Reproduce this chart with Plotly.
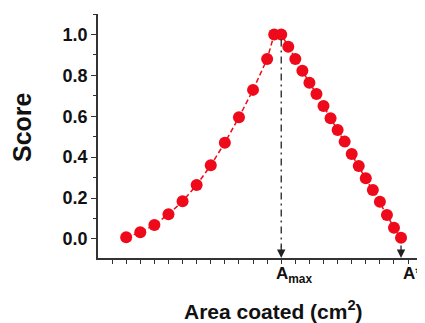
import plotly.graph_objects as go

# Data (x in tick units, Amax at 13, A* at 21.5)
area = [2, 3, 4, 5, 6, 7, 8, 9, 10, 11, 12, 12.5, 13,
        13.5, 14, 14.5, 15, 15.5, 16, 16.5, 17, 17.5, 18, 18.5, 19, 19.5, 20, 20.5, 21, 21.5]
score = [0.008, 0.033, 0.068, 0.121, 0.184, 0.264, 0.36, 0.471, 0.595, 0.729, 0.88, 1.0, 1.0,
         0.94, 0.88, 0.823, 0.764, 0.709, 0.65, 0.59, 0.533, 0.476, 0.416, 0.357, 0.297, 0.24,
         0.182, 0.117, 0.055, 0.006]
a_max = 13
a_star = 21.5
x_ticks = list(range(1, 24))
y_ticks = [0.0, 0.2, 0.4, 0.6, 0.8, 1.0]
x_tick_labels = ["A<sub>max</sub>", "A*"]

RED = "#EE0A1A"
FONT = "Liberation Sans, Arial, sans-serif"
y_lo, y_hi = -0.093, 1.10

# page body has an 8px default margin; figure sized to fill the rest
W, H = 417, 315
ML, MT, MB, MR = 90, 6, 65, 0
plot_w, plot_h = W - ML - MR, H - MT - MB

fig = go.Figure()
fig.add_trace(go.Scatter(
    x=area, y=score, mode="lines+markers",
    line=dict(color=RED, width=1.5, dash="5px,3px"),
    marker=dict(color=RED, size=12, line=dict(width=0)),
    showlegend=False,
))

# dash-dot drop line at Amax
fig.add_shape(type="line", x0=a_max, x1=a_max, y0=0.975, y1=-0.04,
              line=dict(color="#222222", width=1.3, dash="7px,4px,2px,4px"))
fig.add_annotation(x=a_max, y=y_lo, ax=a_max, ay=-0.03, axref="x", ayref="y",
                   text="", showarrow=True, arrowhead=2, arrowsize=1.3,
                   arrowwidth=1.3, arrowcolor="#222222", standoff=0)
# short arrow at A*
fig.add_annotation(x=a_star, y=y_lo, ax=a_star, ay=-0.025, axref="x", ayref="y",
                   text="", showarrow=True, arrowhead=2, arrowsize=1.3,
                   arrowwidth=1.3, arrowcolor="#222222", standoff=0)

# x labels
fig.add_annotation(x=a_max, y=y_lo, xref="x", yref="y", text="<b>" + x_tick_labels[0] + "</b>",
                   showarrow=False, xanchor="left", yanchor="top", xshift=-7, yshift=-4,
                   font=dict(family=FONT, size=17, color="#111111"))
fig.add_annotation(x=a_star, y=y_lo, xref="x", yref="y", text="<b>" + x_tick_labels[1] + "</b>",
                   showarrow=False, xanchor="left", yanchor="top", xshift=0, yshift=-4,
                   font=dict(family=FONT, size=17, color="#111111"))

# axis titles (positions derived from the reference's pixel layout)
fig.add_annotation(x=(273 - 98) / plot_w, y=-(310 - 258) / plot_h, xref="paper", yref="paper",
                   text="<b>Area coated (cm<sup>2</sup>)</b>", showarrow=False,
                   xanchor="center", yanchor="middle",
                   font=dict(family=FONT, size=21, color="#111111"))
fig.add_annotation(x=-(98 - 22) / plot_w, y=(258 - 127) / plot_h, xref="paper", yref="paper",
                   text="<b>Score</b>", showarrow=False, textangle=-90,
                   xanchor="center", yanchor="middle",
                   font=dict(family=FONT, size=25, color="#111111"))

fig.update_layout(
    width=W, height=H,
    margin=dict(l=ML, r=MR, t=MT, b=MB, autoexpand=False),
    paper_bgcolor="white", plot_bgcolor="white",
    font=dict(family=FONT, color="#111111"),
    xaxis=dict(
        range=[0, 23.2], showgrid=False, zeroline=False, automargin=False,
        showline=True, linecolor="#333333", linewidth=1.5,
        tickmode="array", tickvals=x_ticks, ticktext=[""] * len(x_ticks),
        ticks="outside", ticklen=4, tickwidth=1.2, tickcolor="#333333",
    ),
    yaxis=dict(
        range=[y_lo, y_hi], showgrid=False, zeroline=False, automargin=False,
        showline=True, linecolor="#333333", linewidth=1.5,
        tickmode="array", tickvals=y_ticks,
        ticktext=["<b>%.1f</b>" % v for v in y_ticks],
        ticks="outside", ticklen=5, tickwidth=1.2, tickcolor="#333333",
        tickfont=dict(family=FONT, size=18, color="#111111"),
        minor=dict(tickvals=[0.1, 0.3, 0.5, 0.7, 0.9, 1.1], ticks="outside",
                   ticklen=3, tickwidth=1, tickcolor="#333333"),
    ),
)

fig.write_html("out.html")
